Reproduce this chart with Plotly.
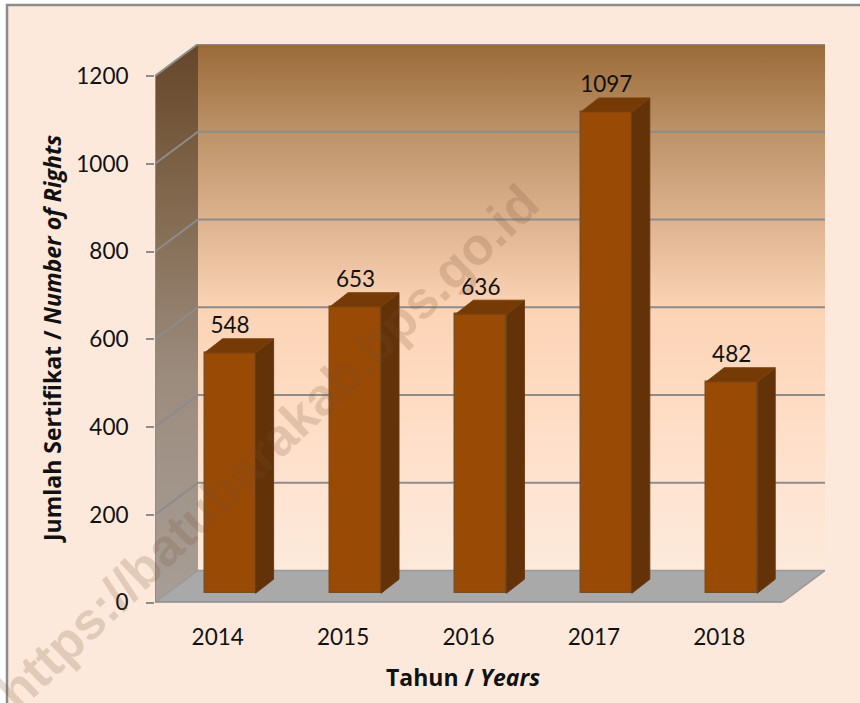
import plotly.graph_objects as go

years = ["2014", "2015", "2016", "2017", "2018"]
values = [548, 653, 636, 1097, 482]
y_ticks = [0, 200, 400, 600, 800, 1000, 1200]

W, H = 860, 703
PX_X0, PX_X1 = 155, 825
PX_Y0 = 602.5
PX_PER_CAT = 125.4
PX_PER_VAL = 0.43875
DEPTH_X, DEPTH_Y = 43 / PX_PER_CAT, 73
X_TOP = (PX_X1 - PX_X0) / PX_PER_CAT
Y_TOP = 1200 + DEPTH_Y
PX_Y1 = PX_Y0 - Y_TOP * PX_PER_VAL
N = len(years)

BAR_W = 51 / PX_PER_CAT
BAR_DX = 12.4 / PX_PER_CAT
BAR_BASE = 21
BAR_DEPTH_X, BAR_DEPTH_Y = 18 / PX_PER_CAT, 32
GRAY = "#8c8c8c"
FONT = "Lato"
FS = 22.5
TITLE_FONT = "Open Sans"
TXT = "#111111"

fig = go.Figure()

# Back wall
fig.add_trace(go.Scatter(
    x=[DEPTH_X, N + DEPTH_X, N + DEPTH_X, DEPTH_X, DEPTH_X],
    y=[DEPTH_Y, DEPTH_Y, Y_TOP, Y_TOP, DEPTH_Y],
    mode="none", fill="toself", hoverinfo="skip",
    fillgradient=dict(type="vertical", colorscale=[
        [0.0, "#fdeadb"], [0.167, "#fee3d0"], [0.335, "#fedbc1"], [0.50, "#fcd3b5"],
        [0.67, "#dcb28e"], [0.835, "#bc9268"], [1.0, "#9a6a38"]]),
))
# Side wall
fig.add_trace(go.Scatter(
    x=[0, DEPTH_X, DEPTH_X, 0, 0],
    y=[0, DEPTH_Y, Y_TOP, 1200, 0],
    mode="none", fill="toself", hoverinfo="skip",
    fillgradient=dict(type="vertical", colorscale=[
        [0.0, "#a89e96"], [0.4, "#9c8c7e"], [0.75, "#7f6549"], [1.0, "#65462a"]]),
))
# Floor
fig.add_trace(go.Scatter(
    x=[0, N, N + DEPTH_X, DEPTH_X, 0],
    y=[0, 0, DEPTH_Y, DEPTH_Y, 0],
    mode="lines", fill="toself", fillcolor="#a9a9a9",
    line=dict(color="#9a9a9a", width=1.5), hoverinfo="skip",
))
# Gridlines across side and back wall
for v in y_ticks[1:]:
    fig.add_trace(go.Scatter(
        x=[0, DEPTH_X, N + DEPTH_X], y=[v, v + DEPTH_Y, v + DEPTH_Y],
        mode="lines", line=dict(color=GRAY, width=2), hoverinfo="skip",
    ))
# Front axis lines
fig.add_trace(go.Scatter(x=[0, 0], y=[0, 1200], mode="lines",
                         line=dict(color=GRAY, width=2), hoverinfo="skip"))
fig.add_trace(go.Scatter(x=[0, N], y=[0, 0], mode="lines",
                         line=dict(color=GRAY, width=2.5), hoverinfo="skip"))
fig.update_traces(cliponaxis=False)

# Bars on an overlaid subplot so they sit above the walls
centers = [i + 0.5 + BAR_DX for i in range(N)]
fig.add_trace(go.Bar(
    x=centers, y=values, base=[BAR_BASE] * N, width=[BAR_W] * N,
    marker=dict(color="#994a04", line=dict(color="#7d4c1e", width=1.5)),
    xaxis="x2", yaxis="y2", hoverinfo="skip",
))
for c, v in zip(centers, values):
    xl, xr = c - BAR_W / 2, c + BAR_W / 2
    top = v + BAR_BASE
    fig.add_trace(go.Scatter(  # right side
        x=[xr, xr + BAR_DEPTH_X, xr + BAR_DEPTH_X, xr, xr],
        y=[BAR_BASE, BAR_BASE + BAR_DEPTH_Y, top + BAR_DEPTH_Y, top, BAR_BASE],
        mode="lines", fill="toself", fillcolor="#633208",
        line=dict(color="#6b3a10", width=1), xaxis="x2", yaxis="y2", hoverinfo="skip",
    ))
    fig.add_trace(go.Scatter(  # top face
        x=[xl, xr, xr + BAR_DEPTH_X, xl + BAR_DEPTH_X, xl],
        y=[top, top, top + BAR_DEPTH_Y, top + BAR_DEPTH_Y, top],
        mode="lines", fill="toself", fillcolor="#763a06",
        line=dict(color="#7a4210", width=1), xaxis="x2", yaxis="y2", hoverinfo="skip",
    ))

# Data labels
fig.add_trace(go.Scatter(
    x=centers, y=[v + BAR_BASE + BAR_DEPTH_Y for v in values],
    mode="text", text=[str(v) for v in values], textposition="top center",
    textfont=dict(family=FONT, size=FS, color=TXT),
    xaxis="x2", yaxis="y2", hoverinfo="skip", cliponaxis=False,
))

dom_x = [PX_X0 / W, PX_X1 / W]
dom_y = [1 - PX_Y0 / H, 1 - PX_Y1 / H]
fig.update_layout(
    width=W, height=H, margin=dict(l=0, r=0, t=0, b=0, autoexpand=False),
    paper_bgcolor="white", plot_bgcolor="rgba(0,0,0,0)", showlegend=False,
    font=dict(family=FONT, size=FS, color=TXT),
    xaxis=dict(domain=dom_x, range=[0, X_TOP], tickvals=[i + 0.5 for i in range(N)],
               ticktext=years, ticks="", showgrid=False, zeroline=False, showline=False,
               automargin=False, ticklabelstandoff=19,
               tickfont=dict(family=FONT, size=FS, color=TXT)),
    yaxis=dict(domain=dom_y, range=[0, Y_TOP], tickvals=y_ticks, ticks="outside", ticklen=8,
               tickwidth=2, tickcolor=GRAY, showgrid=False, zeroline=False, showline=False,
               automargin=False, ticklabelstandoff=13,
               tickfont=dict(family=FONT, size=FS, color=TXT)),
    xaxis2=dict(domain=dom_x, range=[0, X_TOP], overlaying="x", visible=False, automargin=False),
    yaxis2=dict(domain=dom_y, range=[0, Y_TOP], overlaying="y", visible=False, automargin=False),
    bargap=0,
    shapes=[dict(type="rect", xref="paper", yref="paper", layer="below",
                 x0=7 / W, x1=1.02, y0=-0.02, y1=1 - 5 / H,
                 fillcolor="#fde9db", line=dict(color=GRAY, width=2.5))],
    annotations=[
        dict(text="<b>Tahun / <i>Years</i></b>", xref="paper", yref="paper", showarrow=False,
             xanchor="center", yanchor="middle", x=463 / W, y=1 - 677 / H,
             font=dict(family=TITLE_FONT, size=23, color=TXT)),
        dict(text="<b>Jumlah Sertifikat / <i>Number of Rights</i></b>", xref="paper", yref="paper",
             showarrow=False, textangle=-90, xanchor="center", yanchor="middle",
             x=52 / W, y=1 - 339 / H, font=dict(family=TITLE_FONT, size=23, color=TXT)),
        dict(text="<b>https://batubarakab.bps.go.id</b>", xref="paper", yref="paper",
             showarrow=False, textangle=-44, xanchor="center", yanchor="middle",
             x=268 / W, y=1 - 447 / H,
             font=dict(family="Liberation Sans", size=52, color="rgba(120,80,50,0.2)")),
    ],
)
fig.write_html("out.html", config=dict(displayModeBar=False),
               post_script="document.body.style.margin='0';document.body.style.overflow='hidden';")
